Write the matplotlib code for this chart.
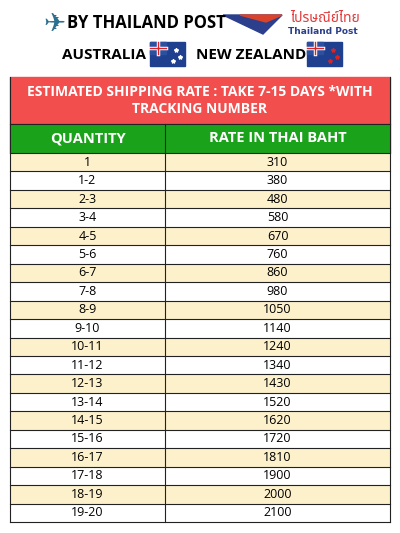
import matplotlib.pyplot as plt
from matplotlib.patches import Rectangle, Polygon

quantities = ["1", "1-2", "2-3", "3-4", "4-5", "5-6", "6-7", "7-8", "8-9", "9-10",
              "10-11", "11-12", "12-13", "13-14", "14-15", "15-16", "16-17", "17-18",
              "18-19", "19-20"]
rates = [310, 380, 480, 580, 670, 760, 860, 980, 1050, 1140,
         1240, 1340, 1430, 1520, 1620, 1720, 1810, 1900, 2000, 2100]
col_labels = ["QUANTITY", "RATE IN THAI BAHT"]
title = "ESTIMATED SHIPPING RATE : TAKE 7-15 DAYS *WITH\nTRACKING NUMBER"

fig = plt.figure(figsize=(4, 5.33), dpi=100)
ax = fig.add_axes([0, 0, 1, 1])
ax.set_xlim(0, 400)
ax.set_ylim(533, 0)
ax.axis("off")

font = ["Open Sans", "DejaVu Sans"]

# header
ax.text(55, 24, "\u2708", fontsize=19, color="#2a6f8f", ha="center", va="center", family="DejaVu Sans")
ax.text(146, 23, "BY THAILAND POST", fontsize=12, fontweight="bold", ha="center", va="center",
        family=font)
ax.add_patch(Polygon([[223, 15], [282, 15], [263, 34]], color="#2b3f8c"))
ax.add_patch(Polygon([[240, 15], [282, 15], [266, 22]], color="#d9432c"))
ax.text(325, 19, "ไปรษณีย์ไทย", fontsize=10, color="#e23a3a", ha="center", va="center",
        family=["Noto Sans Thai", "Noto Sans", "DejaVu Sans"])
ax.text(323, 32, "Thailand Post", fontsize=6.5, color="#2b3f8c", fontweight="bold", ha="center", va="center")

ax.text(104, 55, "AUSTRALIA", fontsize=11, fontweight="bold", ha="center", va="center", family=font)
ax.text(251, 55, "NEW ZEALAND", fontsize=11, fontweight="bold", ha="center", va="center", family=font)
for fx in (150, 307):
    ax.add_patch(Rectangle((fx, 42), 35, 24, color="#1f3f8f"))
    ax.add_patch(Rectangle((fx, 42), 16, 12, color="#2d4fa0"))
    ax.plot([fx, fx + 16], [48, 48], color="white", lw=2.5)
    ax.plot([fx + 8, fx + 8], [42, 54], color="white", lw=2.5)
    ax.plot([fx, fx + 16], [48, 48], color="#d22", lw=1)
    ax.plot([fx + 8, fx + 8], [42, 54], color="#d22", lw=1)
    ax.plot([fx + 26, fx + 30, fx + 23], [50, 57, 61], "*", color="white" if fx == 150 else "#d22", ms=3)

# table
x0, xm, x1 = 10, 165, 390
y_red, y_green, y_rows = 77, 124, 153
rh = 18.45
ax.add_patch(Rectangle((x0, y_red), x1 - x0, y_green - y_red, color="#f24e4e"))
ax.text((x0 + x1) / 2, (y_red + y_green) / 2, title, color="white", fontsize=10, fontweight="bold",
        ha="center", va="center", family=font, linespacing=1.3)
ax.add_patch(Rectangle((x0, y_green), x1 - x0, y_rows - y_green, color="#1aa31a"))
ax.text((x0 + xm) / 2, (y_green + y_rows) / 2, col_labels[0], color="white", fontsize=10.5,
        fontweight="bold", ha="center", va="center", family=font)
ax.text((xm + x1) / 2, (y_green + y_rows) / 2, col_labels[1], color="white", fontsize=10.5,
        fontweight="bold", ha="center", va="center", family=font)
for i, (q, r) in enumerate(zip(quantities, rates)):
    y = y_rows + i * rh
    ax.add_patch(Rectangle((x0, y), x1 - x0, rh, facecolor="#fdf1cc" if i % 2 == 0 else "white",
                           edgecolor="none"))
    ax.text((x0 + xm) / 2, y + rh / 2, q, fontsize=9, ha="center", va="center", family=font)
    ax.text((xm + x1) / 2, y + rh / 2, str(r), fontsize=9, ha="center", va="center", family=font)
    ax.plot([x0, x1], [y, y], color="#222", lw=0.8)
y_end = y_rows + len(rates) * rh
ax.plot([x0, x1], [y_end, y_end], color="#222", lw=0.8)
ax.plot([x0, x0], [y_red, y_end], color="#222", lw=0.8)
ax.plot([x1, x1], [y_red, y_end], color="#222", lw=0.8)
ax.plot([xm, xm], [y_green, y_end], color="#222", lw=0.8)
ax.plot([x0, x1], [y_green, y_green], color="#222", lw=0.8)

fig.savefig("out.png", dpi=100)
